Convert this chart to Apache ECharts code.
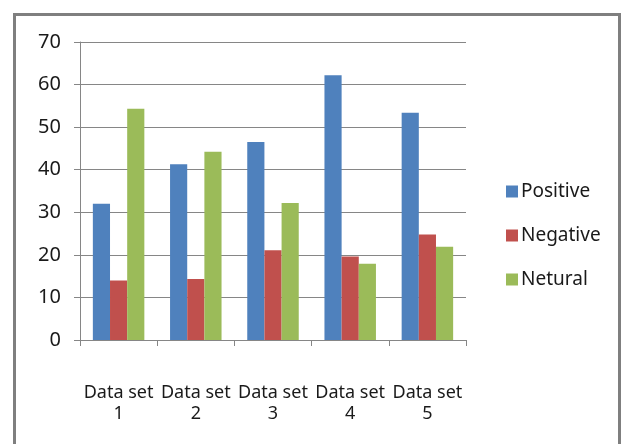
<!DOCTYPE html>
<html><head><meta charset="utf-8">
<script src="https://cdn.jsdelivr.net/npm/echarts@6/dist/echarts.min.js"></script>
<style>html,body{margin:0;padding:0;background:#fff}#c{width:623px;height:444px}</style>
</head><body><div id="c"></div>
<script>
const categories = ['Data set\n1','Data set\n2','Data set\n3','Data set\n4','Data set\n5'];
const positive = [32, 41.3, 46.5, 62.2, 53.4];
const negative = [14, 14.3, 21.1, 19.6, 24.8];
const netural = [54.3, 44.2, 32.2, 17.9, 21.9];
const seriesNames = ['Positive','Negative','Netural'];
const colors = ['#4F81BD','#C0504D','#9BBB59'];
const font = 'Noto Sans';
const chart = echarts.init(document.getElementById('c'), null, {renderer:'canvas'});
chart.setOption({
  animation:false,
  backgroundColor:'#fff',
  color: colors,
  graphic:[{type:'rect', shape:{x:14.5,y:14.5,width:605,height:460}, style:{fill:'none', stroke:'#7f7f7f', lineWidth:3}, silent:true}],
  grid:{left:80, top:42, right:157, bottom:104},
  legend:{orient:'vertical', left:501, top:177, itemWidth:12, itemHeight:12, itemGap:25, icon:'rect',
    textStyle:{fontFamily:font, fontSize:19, color:'#1a1a1a', padding:[0,0,0,-2]}, data:seriesNames},
  xAxis:{type:'category', data:categories,
    axisLine:{lineStyle:{color:'#868686'}},
    axisTick:{show:true, length:6, lineStyle:{color:'#868686'}},
    axisLabel:{fontFamily:font, fontSize:18, color:'#1a1a1a', margin:42, lineHeight:21, interval:0}},
  yAxis:{type:'value', min:0, max:70, interval:10,
    axisLine:{show:true, lineStyle:{color:'#868686'}},
    axisTick:{show:true, length:6, lineStyle:{color:'#868686'}},
    splitLine:{lineStyle:{color:'#868686'}},
    axisLabel:{fontFamily:font, fontSize:20, color:'#1a1a1a', margin:19}},
  series:[
    {name:seriesNames[0], type:'bar', data:positive, barGap:'0%', barCategoryGap:'33.3%'},
    {name:seriesNames[1], type:'bar', data:negative, barGap:'0%', barCategoryGap:'33.3%'},
    {name:seriesNames[2], type:'bar', data:netural, barGap:'0%', barCategoryGap:'33.3%'}
  ]
});
</script></body></html>
